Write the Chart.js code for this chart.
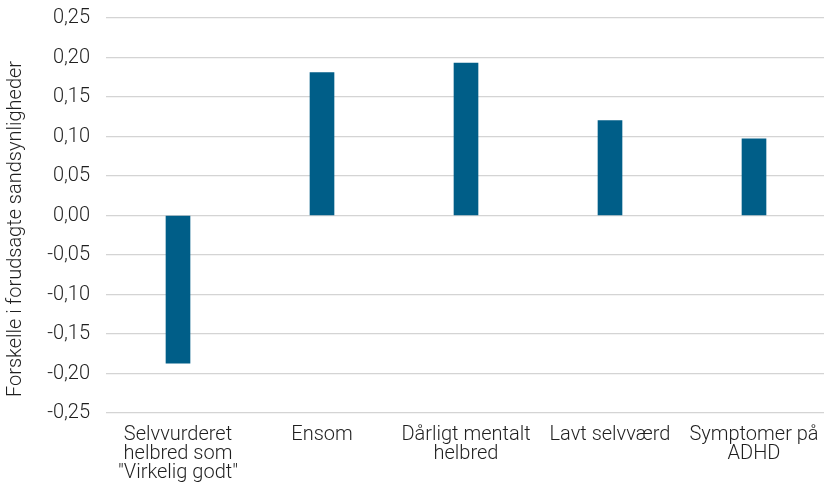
<!DOCTYPE html>
<html>
<head>
<meta charset="utf-8">
<script src="https://cdn.jsdelivr.net/npm/chart.js@4"></script>
<style>
  html, body { margin: 0; padding: 0; background: #fff; overflow: hidden; }
  #wrap { width: 826px; height: 484px; position: relative; }
</style>
</head>
<body>
<div id="wrap"><canvas id="c"></canvas></div>
<script>
// Categories (multi-line labels) and the difference in predicted probabilities
const categories = [
  ['Selvvurderet', 'helbred som', '"Virkelig godt"'],
  ['Ensom'],
  ['Dårligt mentalt', 'helbred'],
  ['Lavt selvværd'],
  ['Symptomer på', 'ADHD']
];
const differences = [-0.187, 0.181, 0.193, 0.120, 0.097];
const yTickLabels = ['-0,25', '-0,20', '-0,15', '-0,10', '-0,05', '0,00', '0,05', '0,10', '0,15', '0,20', '0,25'];
const yTitle = 'Forskelle i forudsagte sandsynligheder';

const BAR_COLOR = '#005e88';
const GRID_COLOR = '#d4d4d4';
const TEXT_COLOR = '#1f1f1f';
const FONT = 'Roboto, "Liberation Sans", sans-serif';

// Vertical axis title, drawn rotated beside the tick labels
const axisTitle = {
  id: 'axisTitle',
  afterDraw(chart) {
    const ctx = chart.ctx;
    ctx.save();
    ctx.translate(16, 229);
    ctx.rotate(-Math.PI / 2);
    ctx.font = '300 20px ' + FONT;
    ctx.fillStyle = TEXT_COLOR;
    ctx.textAlign = 'center';
    ctx.textBaseline = 'middle';
    ctx.fillText(yTitle, 0, 0);
    ctx.restore();
  }
};

new Chart(document.getElementById('c'), {
  type: 'bar',
  data: {
    labels: categories,
    datasets: [{
      data: differences,
      backgroundColor: BAR_COLOR,
      borderWidth: 0,
      barThickness: 24
    }]
  },
  options: {
    responsive: true,
    maintainAspectRatio: false,
    animation: false,
    layout: { padding: { top: 18, right: 0, bottom: 0, left: 0 } },
    plugins: { legend: { display: false }, tooltip: { enabled: false } },
    scales: {
      x: {
        grid: { display: false, drawTicks: false },
        border: { display: false },
        ticks: {
          color: TEXT_COLOR,
          font: { family: FONT, size: 20, weight: '300', lineHeight: 0.96 },
          padding: 12,
          maxRotation: 0,
          autoSkip: false
        },
        afterFit: (s) => { s.height = 71; s.paddingLeft = 0; s.paddingRight = 0; }
      },
      y: {
        min: -0.25,
        max: 0.25,
        grid: { color: GRID_COLOR, lineWidth: 1.2, drawTicks: false },
        border: { display: false },
        ticks: {
          stepSize: 0.05,
          color: TEXT_COLOR,
          font: { family: FONT, size: 20, weight: '300' },
          padding: 16,
          callback: (v, i) => yTickLabels[i]
        },
        afterFit: (s) => { s.width = 106; s.paddingTop = 0; s.paddingBottom = 0; }
      }
    }
  },
  plugins: [axisTitle]
});
</script>
</body>
</html>
